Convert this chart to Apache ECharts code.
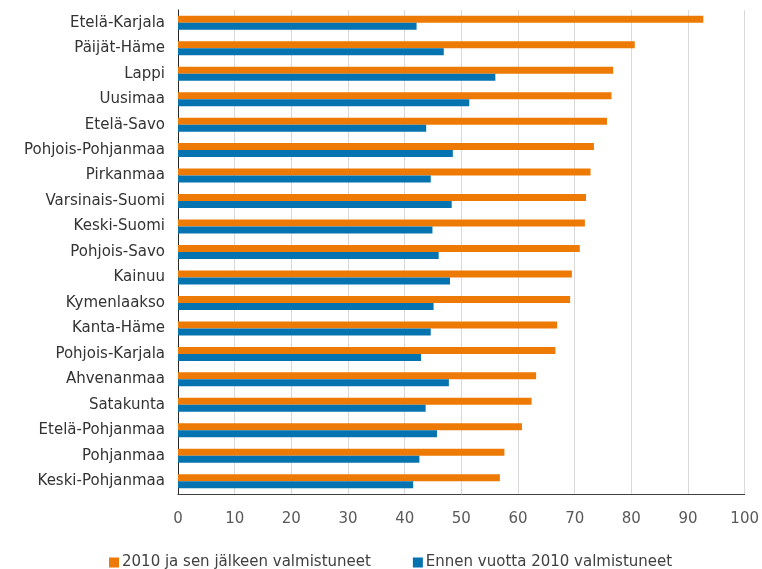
<!DOCTYPE html>
<html>
<head>
<meta charset="utf-8">
<script src="https://cdn.jsdelivr.net/npm/echarts@6/dist/echarts.min.js"></script>
<style>
  html, body { margin: 0; padding: 0; background: #ffffff; }
  #chart { width: 762px; height: 569px; }
</style>
</head>
<body>
<div id="chart"></div>
<script>
// Regions, listed top to bottom
const regions = [
  'Etelä-Karjala', 'Päijät-Häme', 'Lappi', 'Uusimaa', 'Etelä-Savo',
  'Pohjois-Pohjanmaa', 'Pirkanmaa', 'Varsinais-Suomi', 'Keski-Suomi',
  'Pohjois-Savo', 'Kainuu', 'Kymenlaakso', 'Kanta-Häme', 'Pohjois-Karjala',
  'Ahvenanmaa', 'Satakunta', 'Etelä-Pohjanmaa', 'Pohjanmaa', 'Keski-Pohjanmaa'
];

const seriesNames = ['2010 ja sen jälkeen valmistuneet', 'Ennen vuotta 2010 valmistuneet'];

// Built in 2010 or later
const since2010 = [
  92.7, 80.6, 76.8, 76.5, 75.7,
  73.4, 72.8, 72.0, 71.8,
  70.9, 69.5, 69.2, 66.9, 66.6,
  63.2, 62.4, 60.7, 57.6, 56.8
];

// Built before 2010
const before2010 = [
  42.1, 46.9, 56.0, 51.4, 43.8,
  48.5, 44.6, 48.3, 44.9,
  46.0, 48.0, 45.1, 44.6, 42.9,
  47.8, 43.7, 45.7, 42.6, 41.5
];

const xTicks = { min: 0, max: 100, interval: 10 };

const FONT = 'DejaVu Sans';
const chart = echarts.init(document.getElementById('chart'), null, { renderer: 'canvas' });

chart.setOption({
  animation: false,
  backgroundColor: '#ffffff',
  grid: { left: 178, right: 17, top: 10, bottom: 75, containLabel: false },
  legend: {
    top: 550,
    left: 104,
    icon: 'rect',
    itemWidth: 10,
    itemHeight: 10,
    itemGap: 42,
    textStyle: { fontFamily: FONT, fontSize: 15, color: '#404040', padding: [0, 0, 0, -2] },
    data: seriesNames
  },
  xAxis: {
    type: 'value',
    min: xTicks.min,
    max: xTicks.max,
    interval: xTicks.interval,
    axisLine: { show: true, lineStyle: { color: '#404040', width: 1 } },
    axisTick: { show: false },
    axisLabel: { fontFamily: FONT, fontSize: 15, color: '#595959', margin: 18 },
    splitLine: { show: true, lineStyle: { color: '#d9d9d9', width: 1 } }
  },
  yAxis: {
    type: 'category',
    inverse: true,
    data: regions,
    axisLine: { show: true, lineStyle: { color: '#262626', width: 1 } },
    axisTick: { show: false },
    axisLabel: { fontFamily: FONT, fontSize: 15, color: '#333333', margin: 13 }
  },
  series: [
    {
      name: seriesNames[0],
      type: 'bar',
      data: since2010,
      itemStyle: { color: '#ED7A04' },
      barWidth: 7,
      barGap: '0%'
    },
    {
      name: seriesNames[1],
      type: 'bar',
      data: before2010,
      itemStyle: { color: '#0673B1' },
      barWidth: 7,
      barGap: '0%'
    }
  ]
});
</script>
</body>
</html>
